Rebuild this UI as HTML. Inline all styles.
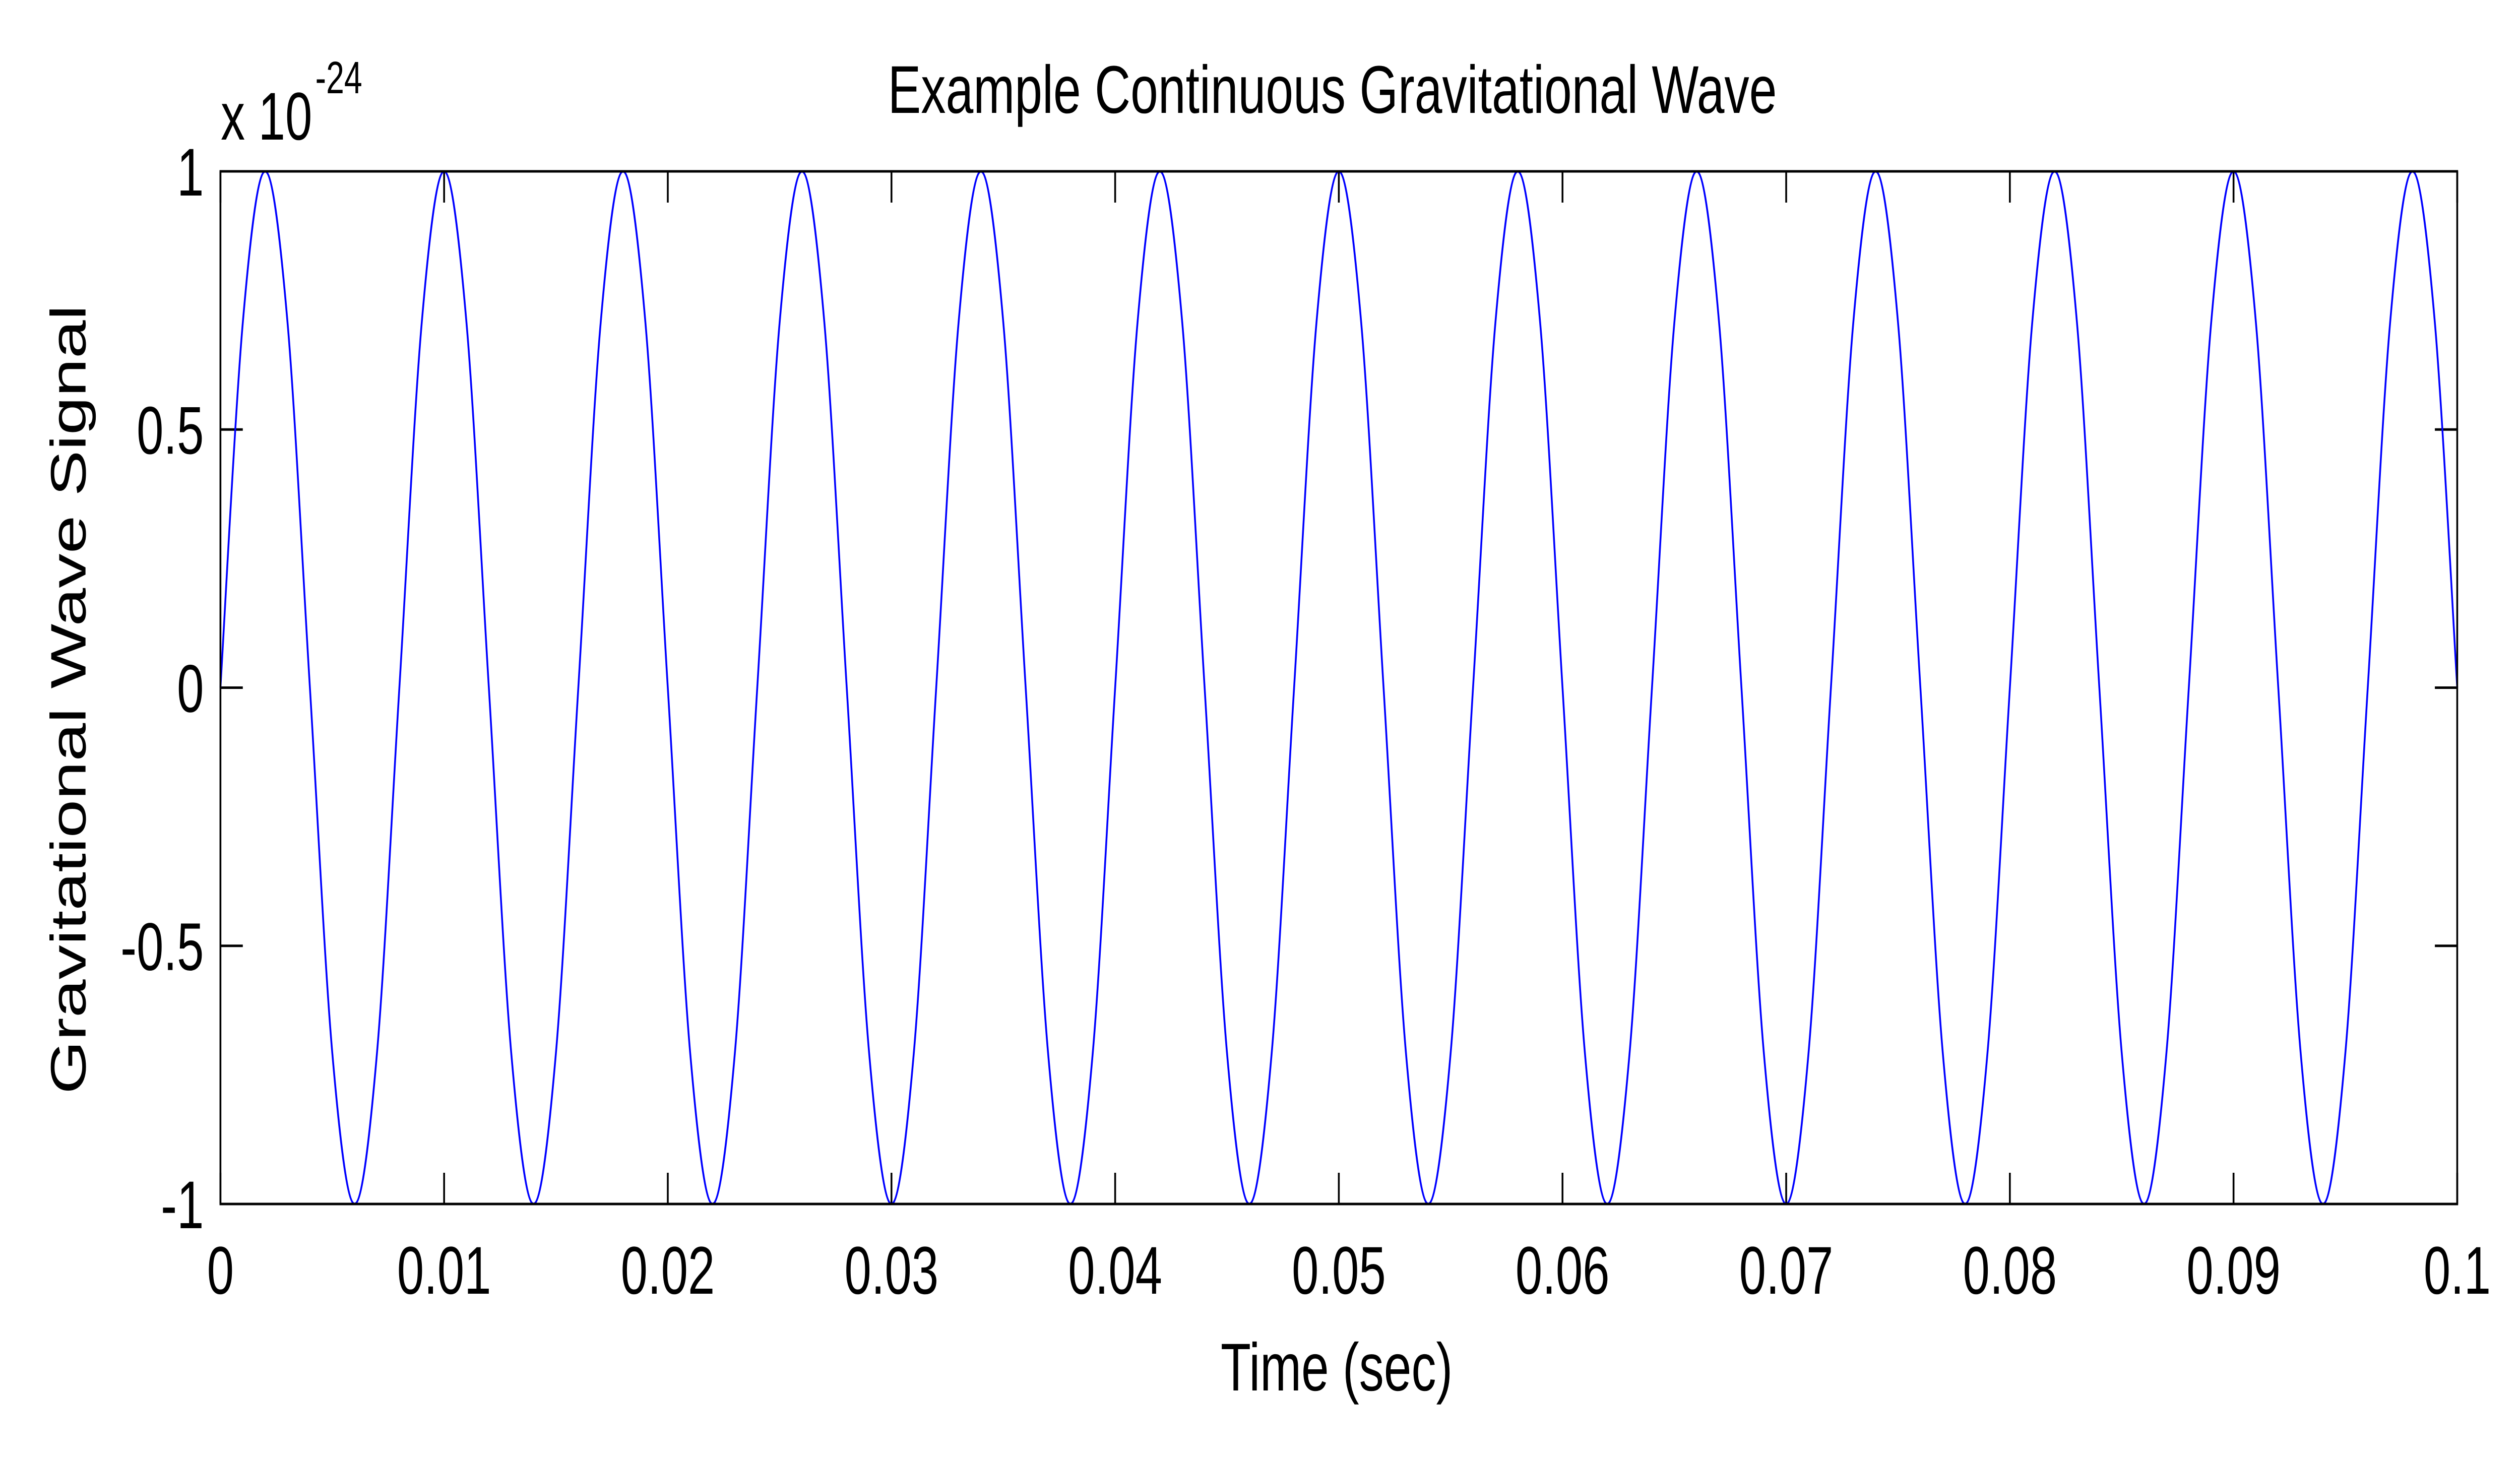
<!DOCTYPE html>
<html><head><meta charset="utf-8"><style>
html,body{margin:0;padding:0;background:#fff;width:100vw;height:100vh;overflow:hidden;}
svg{display:block;width:100vw;height:100vh;}
text{font-family:"Liberation Sans",Arial,sans-serif;fill:#000;}
</style></head><body>
<svg id="chart" viewBox="0 0 6985 2893" preserveAspectRatio="none" xmlns="http://www.w3.org/2000/svg">
<rect x="0" y="0" width="6985" height="2893" fill="#fff"/>
<g id="ticks"></g>
<g id="labels"></g>
<path id="wave" fill="none" stroke="#0000ff" stroke-width="5" stroke-linejoin="round"/>
<rect x="611" y="340" width="6200" height="2049" fill="none" stroke="#000" stroke-width="5"/>
<text x="3693" y="224" font-size="134" text-anchor="middle" textLength="2464" lengthAdjust="spacingAndGlyphs">Example Continuous Gravitational Wave</text>
<text x="3705" y="2759" font-size="134" text-anchor="middle" textLength="643" lengthAdjust="spacingAndGlyphs">Time (sec)</text>
<text transform="translate(237,1388) rotate(-90)" x="0" y="0" font-size="138" text-anchor="middle" textLength="1566" lengthAdjust="spacingAndGlyphs">Gravitational Wave Signal</text>
<text x="612" y="277" font-size="134">x 10</text>
<text x="874" y="185" font-size="90">-24</text>
</svg>
<script>
const xTicks = [0,0.01,0.02,0.03,0.04,0.05,0.06,0.07,0.08,0.09,0.1];
const xTickLabels = ["0","0.01","0.02","0.03","0.04","0.05","0.06","0.07","0.08","0.09","0.1"];
const yTicks = [-1,-0.5,0,0.5,1];
const yTickLabels = ["-1","-0.5","0","0.5","1"];
const sampleStep = 0.001;
const signal = [
0,0.707,1,0.707,0,-0.707,-1,-0.707,
0,0.707,1,0.707,0,-0.707,-1,-0.707,
0,0.707,1,0.707,0,-0.707,-1,-0.707,
0,0.707,1,0.707,0,-0.707,-1,-0.707,
0,0.707,1,0.707,0,-0.707,-1,-0.707,
0,0.707,1,0.707,0,-0.707,-1,-0.707,
0,0.707,1,0.707,0,-0.707,-1,-0.707,
0,0.707,1,0.707,0,-0.707,-1,-0.707,
0,0.707,1,0.707,0,-0.707,-1,-0.707,
0,0.707,1,0.707,0,-0.707,-1,-0.707,
0,0.707,1,0.707,0,-0.707,-1,-0.707,
0,0.707,1,0.707,0,-0.707,-1,-0.707,
0,0.707,1,0.707,0];

const L=611,R=6811,T=340,B=2389;
const xMin=0,xMax=0.1,yMin=-1,yMax=1;
function xs(v){return L+(v-xMin)/(xMax-xMin)*(R-L);}
function ys(v){return B-(v-yMin)/(yMax-yMin)*(B-T);}
const NS="http://www.w3.org/2000/svg";
const tg=document.getElementById('ticks'), lg=document.getElementById('labels');
function line(x1,y1,x2,y2,name){
  const l=document.createElementNS(NS,'line');
  l.setAttribute('x1',x1);l.setAttribute('y1',y1);l.setAttribute('x2',x2);l.setAttribute('y2',y2);
  l.setAttribute('stroke','#000');l.setAttribute('stroke-width','5');
  
  
  tg.appendChild(l);
}
xTicks.forEach((v,i)=>{
  const x=xs(v);
  line(x,B,x,B-62,'x-tick');
  line(x,T,x,T+62,'x-tick-top');
  const t=document.createElementNS(NS,'text');
  t.setAttribute('x',x);t.setAttribute('y',2567);t.setAttribute('font-size','134');t.setAttribute('text-anchor','middle');
  t.textContent=xTickLabels[i];
  
  
  lg.appendChild(t);
});
yTicks.forEach((v,i)=>{
  const y=ys(v);
  line(L,y,L+62,y,'y-tick');
  line(R,y,R-62,y,'y-tick-right');
  const t=document.createElementNS(NS,'text');
  t.setAttribute('x',565);t.setAttribute('y',y+48);t.setAttribute('font-size','134');t.setAttribute('text-anchor','end');
  t.textContent=yTickLabels[i];
  
  
  lg.appendChild(t);
});
const pts=signal.map((v,i)=>[xs(i*sampleStep),ys(v)]);
let d='M'+pts[0][0].toFixed(1)+','+pts[0][1].toFixed(1);
for(let i=0;i<pts.length-1;i++){
  const p0=pts[Math.max(0,i-1)],p1=pts[i],p2=pts[i+1],p3=pts[Math.min(pts.length-1,i+2)];
  const c1x=p1[0]+(p2[0]-p0[0])/6,c1y=p1[1]+(p2[1]-p0[1])/6;
  const c2x=p2[0]-(p3[0]-p1[0])/6,c2y=p2[1]-(p3[1]-p1[1])/6;
  d+=' C'+c1x.toFixed(1)+','+c1y.toFixed(1)+' '+c2x.toFixed(1)+','+c2y.toFixed(1)+' '+p2[0].toFixed(1)+','+p2[1].toFixed(1);
}
document.getElementById('wave').setAttribute('d',d);
</script>
</body></html>
